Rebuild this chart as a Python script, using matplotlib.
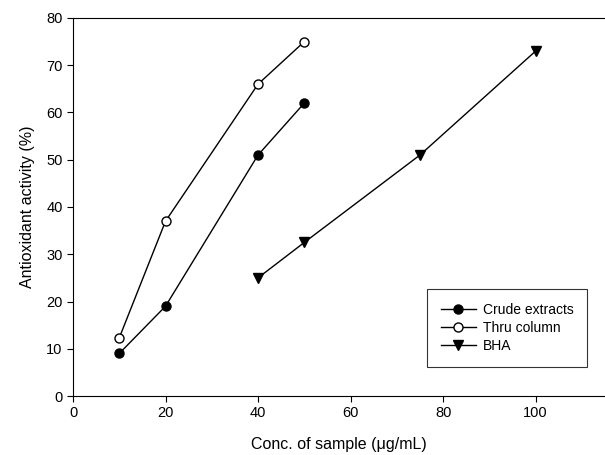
import matplotlib.pyplot as plt

plt.rcParams['font.family'] = ['Liberation Sans', 'DejaVu Sans']

# данные
conc_crude = [10, 20, 40, 50]
act_crude = [9, 19, 51, 62]
conc_thru = [10, 20, 40, 50]
act_thru = [12.3, 37, 66, 75]
conc_bha = [40, 50, 75, 100]
act_bha = [25, 32.5, 51, 73]

fig = plt.figure(figsize=(6.05, 4.55), dpi=100)
ax = fig.add_axes([73 / 605, 1 - 396 / 455, 1 - 73 / 605, (396 - 18) / 455])

ax.plot(conc_crude, act_crude, 'k-', marker='o', ms=6.5, lw=1, label='Crude extracts')
ax.plot(conc_thru, act_thru, 'k-', marker='o', ms=6.5, lw=1, mfc='white', label='Thru column')
ax.plot(conc_bha, act_bha, 'k-', marker='v', ms=6.5, lw=1, label='BHA')

ax.set_xlim(0, 115)
ax.set_ylim(0, 80)
ax.set_xticks([0, 20, 40, 60, 80, 100])
ax.set_yticks(range(0, 81, 10))
ax.tick_params(direction='out', length=4, labelsize=10.5)
ax.spines['right'].set_visible(False)
ax.set_xlabel('Conc. of sample (μg/mL)', fontsize=11.5, labelpad=12)
ax.set_ylabel('Antioxidant activity (%)', fontsize=11.5, labelpad=8)

leg = ax.legend(loc='lower right', bbox_to_anchor=(0.98, 0.058), fontsize=10,
                frameon=True, fancybox=False, edgecolor='black', handlelength=2.5,
                borderpad=1.0, labelspacing=0.3, handletextpad=0.5)
leg.get_frame().set_linewidth(0.8)

fig.savefig('out.png', dpi=100)
